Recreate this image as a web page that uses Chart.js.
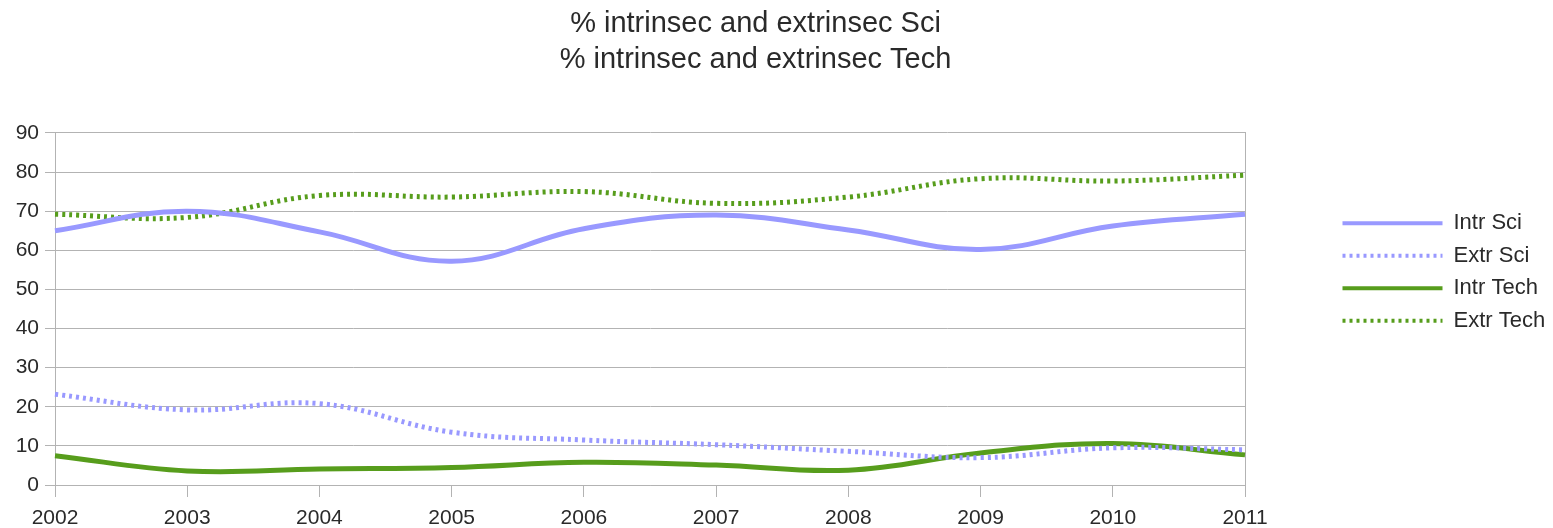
<!DOCTYPE html>
<html>
<head>
<meta charset="utf-8">
<script src="https://cdn.jsdelivr.net/npm/chart.js@4"></script>
<style>
  html, body { margin: 0; padding: 0; background: #fff; }
</style>
</head>
<body>
<canvas id="myChart" width="1553" height="528"></canvas>
<script>
const years = ["2002", "2003", "2004", "2005", "2006", "2007", "2008", "2009", "2010", "2011"]
const intrSci = [65, 70, 64.7, 57.2, 65.5, 69, 65.2, 60.2, 66.2, 69.2]
const extrSci = [23.2, 19.2, 20.8, 13.5, 11.5, 10.3, 8.6, 7, 9.5, 9]
const intrTech = [7.5, 3.6, 4.1, 4.5, 5.8, 5.1, 3.8, 8.2, 10.6, 7.7]
const extrTech = [69.2, 68.4, 74, 73.6, 75, 72, 73.6, 78.3, 77.7, 79.2]

const blue = "#9999ff"
const green = "#579d1c"
const gridColor = "#b3b3b3"
const textColor = "#2a2a2a"

Chart.defaults.font.family = "'Liberation Sans', Arial, sans-serif"
Chart.defaults.color = textColor

function lineSet(label, data, color, dotted){
    return {
        label: label,
        data: data,
        borderColor: color,
        backgroundColor: color,
        borderWidth: 5,
        borderDash: dotted ? [3, 4] : [],
        borderCapStyle: "butt",
        pointRadius: 0,
        tension: 0.4,
        fill: false
    }
}

// small position tweaks the layout options can't express
const nudge = {
    id: "nudge",
    afterLayout(chart){
        chart.titleBlock.right = 1511
        chart.legend.top += 16
    }
}

let htmlChart = document.getElementById("myChart")
let chart = new Chart(htmlChart, {
    type: "line",
    data: {
        labels: years,
        datasets: [
            lineSet("Intr Sci", intrSci, blue, false),
            lineSet("Extr Sci", extrSci, blue, true),
            lineSet("Intr Tech", intrTech, green, false),
            lineSet("Extr Tech", extrTech, green, true)
        ]
    },
    plugins: [nudge],
    options: {
        responsive: false,
        animation: false,
        devicePixelRatio: 1,
        layout: {
            padding: { left: 0, right: 0, top: 0, bottom: 0 }
        },
        plugins: {
            title: {
                display: true,
                text: ["% intrinsec and extrinsec Sci", "% intrinsec and extrinsec Tech"],
                color: textColor,
                font: { size: 29, weight: "normal", lineHeight: 1.24 },
                padding: { top: 6, bottom: 55 }
            },
            legend: {
                display: true,
                position: "right",
                maxWidth: 221,
                labels: {
                    usePointStyle: true,
                    pointStyle: "line",
                    pointStyleWidth: 100,
                    boxHeight: 22,
                    padding: 10.5,
                    color: textColor,
                    font: { size: 22 },
                    generateLabels: (chart) => {
                        const items = Chart.defaults.plugins.legend.labels.generateLabels(chart)
                        items.forEach((item) => {
                            item.lineDash = chart.data.datasets[item.datasetIndex].borderDash
                            item.lineCap = "butt"
                            item.lineWidth = 4
                        })
                        return items
                    }
                }
            },
            tooltip: { enabled: false }
        },
        scales: {
            x: {
                offset: false,
                afterFit: (axis) => { axis.height = 43 },
                grid: {
                    display: true,
                    drawOnChartArea: false,
                    drawTicks: true,
                    tickLength: 12,
                    color: gridColor
                },
                border: { display: true, color: gridColor },
                ticks: {
                    color: textColor,
                    font: { size: 21 },
                    maxRotation: 0,
                    autoSkip: false,
                    padding: 9
                }
            },
            y: {
                min: 0,
                max: 90,
                afterFit: (axis) => { axis.width = 55 },
                grid: {
                    color: gridColor,
                    tickLength: 10
                },
                border: { display: true, color: gridColor },
                ticks: {
                    stepSize: 10,
                    color: textColor,
                    font: { size: 21 },
                    padding: 6
                }
            },
            y2: {
                position: "right",
                min: 0,
                max: 90,
                afterFit: (axis) => { axis.width = 87 },
                grid: { drawOnChartArea: false, drawTicks: false },
                border: { display: true, color: gridColor },
                ticks: { display: false }
            }
        }
    }
})
</script>
</body>
</html>
